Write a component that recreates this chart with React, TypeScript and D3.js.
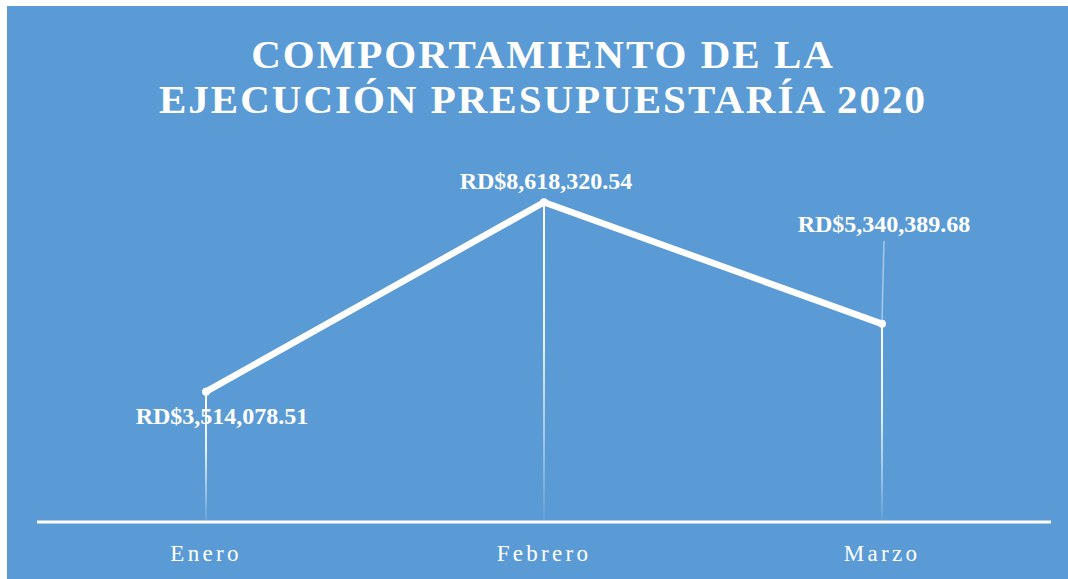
import React from "react";
import * as d3 from "d3";

const months = ["Enero", "Febrero", "Marzo"];
const values = [3514078.51, 8618320.54, 5340389.68];
const valueLabels = ["RD$3,514,078.51", "RD$8,618,320.54", "RD$5,340,389.68"];
const titleLines = ["COMPORTAMIENTO DE LA", "EJECUCIÓN PRESUPUESTARÍA 2020"];

// label offsets relative to the point (layout, not data)
const labelOffsets: [number, number][] = [
  [16, 32],
  [2, -13],
  [2, -92],
];

const W = 1068;
const H = 579;
const FONT = "'Liberation Serif', 'Times New Roman', serif";

export default function App() {
  const x = d3.scaleBand<string>().domain(months).range([37, 1051]);
  const y = d3.scaleLinear().domain([0, 10000000]).range([522, 151]);
  const line = d3
    .line<number>()
    .x((_, i) => (x(months[i]) as number) + x.bandwidth() / 2)
    .y((d) => y(d));
  const cx = (i: number) => (x(months[i]) as number) + x.bandwidth() / 2;

  return (
    <svg
      width={W}
      height={H}
      style={{ position: "absolute", left: 0, top: 0, display: "block" }}
    >
      <defs>
        {values.map((v, i) => (
          <linearGradient
            key={i}
            id={`drop${i}`}
            gradientUnits="userSpaceOnUse"
            x1={0}
            x2={0}
            y1={y(v)}
            y2={y(0)}
          >
            <stop offset="0" stopColor="#fff" stopOpacity={1} />
            <stop offset="0.45" stopColor="#fff" stopOpacity={0.85} />
            <stop offset="1" stopColor="#fff" stopOpacity={0.05} />
          </linearGradient>
        ))}
      </defs>
      <rect x={7} y={6} width={W - 7} height={H - 6} fill="#5B9BD5" />
      {titleLines.map((t, i) => (
        <text
          key={t}
          x={543}
          y={68 + i * 45}
          textAnchor="middle"
          fill="#fff"
          fontFamily={FONT}
          fontWeight="bold"
          fontSize={41}
          letterSpacing={2}
        >
          {t}
        </text>
      ))}
      {values.map((v, i) => (
        <line
          key={i}
          x1={cx(i)}
          x2={cx(i)}
          y1={y(v)}
          y2={y(0)}
          stroke={`url(#drop${i})`}
          strokeWidth={2}
        />
      ))}
      <line
        x1={cx(2) + 2}
        y1={241}
        x2={cx(2)}
        y2={y(values[2]) - 4}
        stroke="#fff"
        strokeOpacity={0.45}
        strokeWidth={1.5}
      />
      <line x1={37} x2={1051} y1={y(0)} y2={y(0)} stroke="#fff" strokeWidth={3} />
      <path
        d={line(values) || ""}
        fill="none"
        stroke="#fff"
        strokeWidth={6.5}
        strokeLinejoin="round"
      />
      {values.map((v, i) => (
        <circle key={i} cx={cx(i)} cy={y(v)} r={4} fill="#fff" />
      ))}
      {valueLabels.map((l, i) => (
        <text
          key={l}
          x={cx(i) + labelOffsets[i][0]}
          y={y(values[i]) + labelOffsets[i][1]}
          textAnchor="middle"
          fill="#fff"
          fontFamily={FONT}
          fontWeight="bold"
          fontSize={24}
        >
          {l}
        </text>
      ))}
      {months.map((m, i) => (
        <text
          key={m}
          x={cx(i)}
          y={561}
          textAnchor="middle"
          fill="#fff"
          fontFamily={FONT}
          fontSize={23}
          letterSpacing={3.3}
        >
          {m}
        </text>
      ))}
    </svg>
  );
}
